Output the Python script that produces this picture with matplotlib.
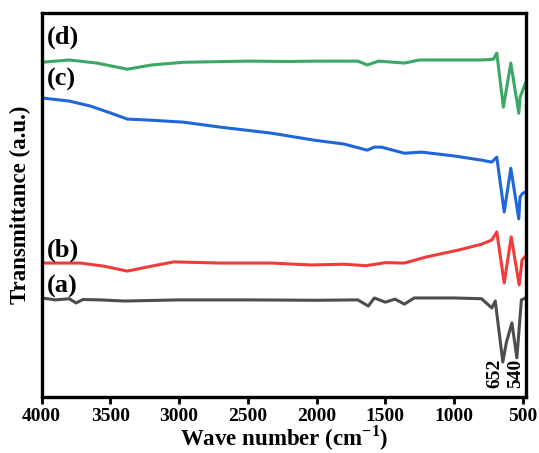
import matplotlib
matplotlib.use("Agg")
import matplotlib.pyplot as plt

plt.rcParams['font.family'] = ['Liberation Serif', 'DejaVu Serif']
plt.rcParams['font.weight'] = 'bold'
plt.rcParams['mathtext.fontset'] = 'custom'
plt.rcParams['mathtext.rm'] = 'Liberation Serif:bold'
plt.rcParams['mathtext.bf'] = 'Liberation Serif:bold'

# FTIR spectra, wavenumber (cm-1) vs transmittance (a.u., offset)
wn_a = [4000, 3900, 3800, 3750, 3700, 3574, 3400, 3000, 2500, 2000, 1700, 1624, 1580,
        1500, 1430, 1361, 1290, 1000, 800, 725, 700, 645, 620, 579, 543, 510, 480]
tr_a = [25.8, 25.3, 25.6, 24.5, 25.4, 25.3, 25.0, 25.3, 25.3, 25.2, 25.3, 23.7, 25.8,
        24.7, 25.5, 24.2, 25.8, 25.8, 25.6, 23.2, 25.0, 9.1, 14.1, 19.3, 10.2, 25.3, 25.8]

wn_b = [4000, 3720, 3550, 3377, 3200, 3040, 2700, 2332, 2040, 1800, 1640, 1500, 1361,
        1200, 966, 800, 725, 689, 635, 584, 526, 505, 480]
tr_b = [34.9, 34.9, 34.1, 32.8, 34.1, 35.2, 34.9, 34.9, 34.4, 34.6, 34.2, 35.0, 34.9,
        36.5, 38.3, 39.8, 40.9, 43.0, 29.7, 41.7, 29.2, 35.7, 36.7]

wn_c = [4000, 3800, 3647, 3500, 3377, 3200, 2968, 2700, 2332, 2017, 1800, 1631, 1580,
        1528, 1361, 1237, 1000, 800, 725, 689, 635, 587, 529, 520, 500, 480]
tr_c = [77.9, 77.1, 75.8, 74.0, 72.4, 72.1, 71.6, 70.3, 68.75, 66.9, 65.9, 64.3, 65.1,
        65.1, 63.5, 63.8, 62.8, 61.7, 61.2, 62.5, 48.2, 59.6, 46.4, 52.1, 53.1, 53.4]

wn_d = [4000, 3800, 3600, 3377, 3200, 2968, 2500, 2200, 2000, 1700, 1631, 1550, 1361,
        1250, 1000, 800, 713, 689, 641, 587, 529, 520, 500, 480]
tr_d = [87.2, 87.8, 87.0, 85.4, 86.5, 87.2, 87.5, 87.4, 87.5, 87.5, 86.5, 87.5, 87.0,
        87.8, 87.8, 87.8, 88.0, 89.6, 75.5, 87.0, 73.9, 78.1, 79.9, 81.8]

labels = ['(a)', '(b)', '(c)', '(d)']
label_y = [0.289, 0.383, 0.826, 0.9375]
colors = ['#4d4d4d', '#ee3b3b', '#1f66d9', '#3aa864']
peaks = [652, 540]
peak_x = [703, 550]

fig = plt.figure(figsize=(5.39, 4.53), dpi=100)
ax = fig.add_axes([0.0774, 0.1236, 0.8986, 0.8474])

for wn, tr, c in zip([wn_a, wn_b, wn_c, wn_d], [tr_a, tr_b, tr_c, tr_d], colors):
    ax.plot(wn, tr, color=c, lw=2.2)

for lab, ly in zip(labels, label_y):
    ax.text(0.011, ly, lab, transform=ax.transAxes, fontsize=19, fontweight='bold',
            ha='left', va='center')

for p, px in zip(peaks, peak_x):
    ax.text(px, 2.3, str(p), rotation=90, ha='center', va='bottom',
            fontsize=14, fontweight='bold')

ax.set_xlim(4000, 476)
ax.set_ylim(0, 100)
ax.set_xticks([4000, 3500, 3000, 2500, 2000, 1500, 1000, 500])
ax.set_yticks([])
ax.tick_params(axis='x', direction='out', length=5, width=2, labelsize=14, pad=3)
for lbl in ax.get_xticklabels():
    lbl.set_fontweight('bold')
for s in ax.spines.values():
    s.set_linewidth(2.4)

ax.set_xlabel('Wave number (cm$^{-1}$)', fontsize=16.5, fontweight='bold', labelpad=-1)
ax.set_ylabel('Transmittance (a.u.)', fontsize=16.5, fontweight='bold', labelpad=8)

fig.savefig('out.png', dpi=100)
